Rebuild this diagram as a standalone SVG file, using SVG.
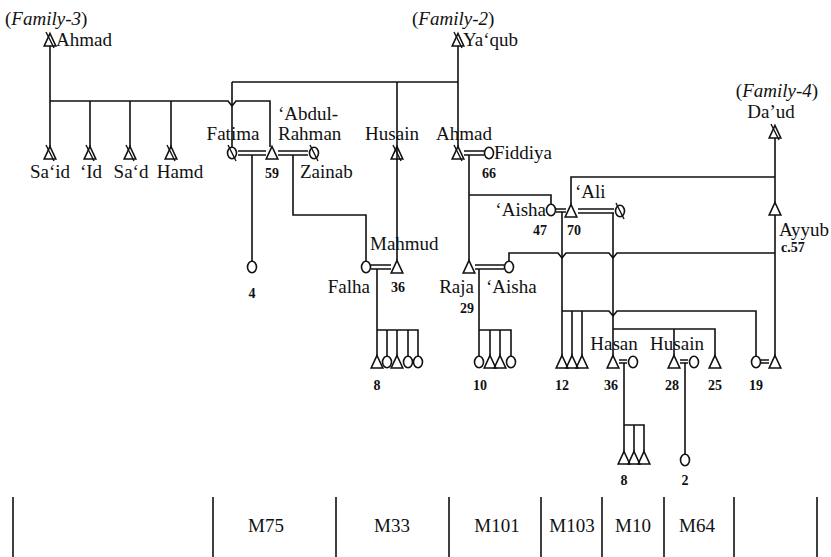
<svg xmlns="http://www.w3.org/2000/svg" width="831" height="557" viewBox="0 0 831 557">
<style>
.bg{fill:#fff}
.ln{fill:none;stroke:#111;stroke-width:1.6}
.sym{fill:none;stroke:#111;stroke-width:1.6}
.sl{stroke:#111;stroke-width:1.4}
text{font-family:"Liberation Serif","Times New Roman",serif;fill:#111}
.n{font-size:19px}
.num{font-size:14px;font-weight:bold}
.tab{font-size:19px}
.it{font-style:italic}
</style>
<defs>
<path id="tri" class="sym" d="M0,-6.5 L5.8,6 L-5.8,6 Z"/>
<ellipse id="cir" class="sym" rx="4.5" ry="5.8"/>
<path id="sl" class="sl" d="M-4,-8 L4,8"/>
</defs>
<rect class="bg" width="831" height="557"/>
<g id="connectors">
<path class="ln" d="M50,46 V147 M50,101 H228 L232,106 L236,101 H270 V147 M90,101 V147 M130,101 V147 M171,101 V147"/>
<path class="ln" d="M458,46 V147 M232,82 H458 M232,82 V147 M397,82 V261"/>
<path class="ln" d="M238,151 H266 M238,155 H266 M278,151 H308 M278,155 H308 M464,151 H484 M464,155 H484"/>
<path class="ln" d="M252,155 V262 M293,155 V215 H366 V261 M469,155 V261 M469,195 H551 V204"/>
<path class="ln" d="M371,265 H391 M371,269 H391 M377,269 V356 M377,330 H418 V356 M387,330 V356 M397,330 V356 M408,330 V356"/>
<path class="ln" d="M475,265 H504 M475,269 H504 M479,269 V356 M479,330 H511 V356 M490,330 V356 M500,330 V356"/>
<path class="ln" d="M509,261 V253 H558 L562,258 L566,253 H609 L613,258 L617,253 H775"/>
<path class="ln" d="M556,209 H566 M556,212 H566 M571,205 V177 H775 M578,209 H614 M578,213 H614"/>
<path class="ln" d="M562,212 V356 M562,311 H609 L613,316 L617,311 H756 V356 M572,311 V356 M582,311 V356"/>
<path class="ln" d="M613,213 V356 M613,329 H715 V356 M674,329 V356"/>
<path class="ln" d="M619,360 H627 M619,363 H627 M680,360 H688 M680,363 H688 M761,360 H769 M761,363 H769"/>
<path class="ln" d="M624,363 V452 M624,425 H644 V452 M634,425 V452 M685,363 V454"/>
<path class="ln" d="M775,138 V203 M775,215 V356"/>
</g>
<g id="ahmad-f3"><use href="#tri" x="50" y="40"/><use href="#sl" x="50" y="40"/><text class="n" x="5" y="25">(<tspan class="it">Family-3</tspan>)</text><text class="n" x="56" y="46">Ahmad</text></g>
<g id="yaqub"><use href="#tri" x="458" y="40"/><use href="#sl" x="458" y="40"/><text class="n" x="412" y="25">(<tspan class="it">Family-2</tspan>)</text><text class="n" x="463" y="46">Ya‘qub</text></g>
<g id="saId"><use href="#tri" x="50" y="153"/><use href="#sl" x="50" y="153"/><text class="n" x="50" y="178" text-anchor="middle">Sa‘id</text></g>
<g id="id"><use href="#tri" x="90" y="153"/><use href="#sl" x="90" y="153"/><text class="n" x="91" y="178" text-anchor="middle">‘Id</text></g>
<g id="sad"><use href="#tri" x="130" y="153"/><use href="#sl" x="130" y="153"/><text class="n" x="131" y="178" text-anchor="middle">Sa‘d</text></g>
<g id="hamd"><use href="#tri" x="171" y="153"/><use href="#sl" x="171" y="153"/><text class="n" x="180" y="178" text-anchor="middle">Hamd</text></g>
<g id="fatima"><use href="#cir" x="232" y="153"/><use href="#sl" x="232" y="153"/><text class="n" x="233" y="140" text-anchor="middle">Fatima</text></g>
<g id="abdulrahman"><use href="#tri" x="272" y="153"/><text class="n" x="278" y="120">‘Abdul-</text><text class="n" x="278" y="140">Rahman</text><text class="num" x="272" y="178" text-anchor="middle">59</text></g>
<g id="zainab"><use href="#cir" x="314" y="153"/><use href="#sl" x="314" y="153"/><text class="n" x="300" y="178">Zainab</text></g>
<g id="husain1"><use href="#tri" x="397" y="153"/><use href="#sl" x="397" y="153"/><text class="n" x="392" y="140" text-anchor="middle">Husain</text></g>
<g id="ahmad-f2"><use href="#tri" x="458" y="153"/><use href="#sl" x="458" y="153"/><text class="n" x="464" y="140" text-anchor="middle">Ahmad</text><text class="num" x="489" y="178" text-anchor="middle">66</text></g>
<g id="fiddiya"><use href="#cir" x="489" y="153"/><text class="n" x="494" y="159">Fiddiya</text></g>
<g id="daud"><use href="#tri" x="775" y="132"/><use href="#sl" x="775" y="132"/><text class="n" x="777" y="97" text-anchor="middle">(<tspan class="it">Family-4</tspan>)</text><text class="n" x="771" y="118" text-anchor="middle">Da’ud</text></g>
<g id="aisha1"><use href="#cir" x="551" y="210"/><text class="n" x="546" y="216" text-anchor="end">‘Aisha</text><text class="num" x="540" y="235" text-anchor="middle">47</text></g>
<g id="ali"><use href="#tri" x="571" y="211"/><text class="n" x="575" y="198">‘Ali</text><text class="num" x="574" y="235" text-anchor="middle">70</text></g>
<g id="ali-wife"><use href="#cir" x="620" y="211"/><use href="#sl" x="620" y="211"/></g>
<g id="ayyub"><use href="#tri" x="775" y="209"/><text class="n" x="779" y="236">Ayyub</text><text class="num" x="781" y="252">c.57</text></g>
<g id="fatima-child"><use href="#cir" x="252" y="267"/><text class="num" x="252" y="298" text-anchor="middle">4</text></g>
<g id="falha"><use href="#cir" x="366" y="267"/><text class="n" x="370" y="293" text-anchor="end">Falha</text></g>
<g id="mahmud"><use href="#tri" x="397" y="267"/><text class="n" x="370" y="250">Mahmud</text><text class="num" x="398" y="292" text-anchor="middle">36</text></g>
<g id="raja"><use href="#tri" x="469" y="267"/><text class="n" x="474" y="293" text-anchor="end">Raja</text><text class="num" x="467" y="313" text-anchor="middle">29</text></g>
<g id="aisha2"><use href="#cir" x="509" y="267"/><text class="n" x="486" y="293">‘Aisha</text></g>
<g id="mahmud-children"><use href="#tri" x="377" y="362"/><use href="#cir" x="387" y="362"/><use href="#tri" x="397" y="362"/><use href="#cir" x="408" y="362"/><use href="#cir" x="418" y="362"/><text class="num" x="377" y="390" text-anchor="middle">8</text></g>
<g id="raja-children"><use href="#cir" x="479" y="362"/><use href="#tri" x="490" y="362"/><use href="#tri" x="500" y="362"/><use href="#cir" x="511" y="362"/><text class="num" x="480" y="390" text-anchor="middle">10</text></g>
<g id="aisha-ali-children"><use href="#tri" x="562" y="362"/><use href="#tri" x="572" y="362"/><use href="#tri" x="582" y="362"/><text class="num" x="562" y="390" text-anchor="middle">12</text></g>
<g id="hasan"><use href="#tri" x="613" y="362"/><use href="#cir" x="633" y="362"/><text class="n" x="614" y="350" text-anchor="middle">Hasan</text><text class="num" x="611" y="390" text-anchor="middle">36</text></g>
<g id="husain2"><use href="#tri" x="674" y="362"/><use href="#cir" x="694" y="362"/><text class="n" x="677" y="350" text-anchor="middle">Husain</text><text class="num" x="672" y="390" text-anchor="middle">28</text></g>
<g id="son25"><use href="#tri" x="715" y="362"/><text class="num" x="715" y="390" text-anchor="middle">25</text></g>
<g id="dau19"><use href="#cir" x="756" y="362"/><use href="#tri" x="775" y="362"/><text class="num" x="756" y="390" text-anchor="middle">19</text></g>
<g id="hasan-children"><use href="#tri" x="624" y="458"/><use href="#tri" x="634" y="458"/><use href="#tri" x="644" y="458"/><text class="num" x="624" y="485" text-anchor="middle">8</text></g>
<g id="husain-child"><use href="#cir" x="685" y="460"/><text class="num" x="685" y="485" text-anchor="middle">2</text></g>
<g id="table">
<path class="ln" d="M13,497 V557 M213,497 V557 M336,497 V557 M449,497 V557 M541,497 V557 M602,497 V557 M664,497 V557 M734,497 V557 M817,497 V557"/>
<text class="tab" x="266" y="532" text-anchor="middle">M75</text>
<text class="tab" x="392" y="532" text-anchor="middle">M33</text>
<text class="tab" x="497" y="532" text-anchor="middle">M101</text>
<text class="tab" x="572" y="532" text-anchor="middle">M103</text>
<text class="tab" x="633" y="532" text-anchor="middle">M10</text>
<text class="tab" x="697" y="532" text-anchor="middle">M64</text>
</g>
</svg>
